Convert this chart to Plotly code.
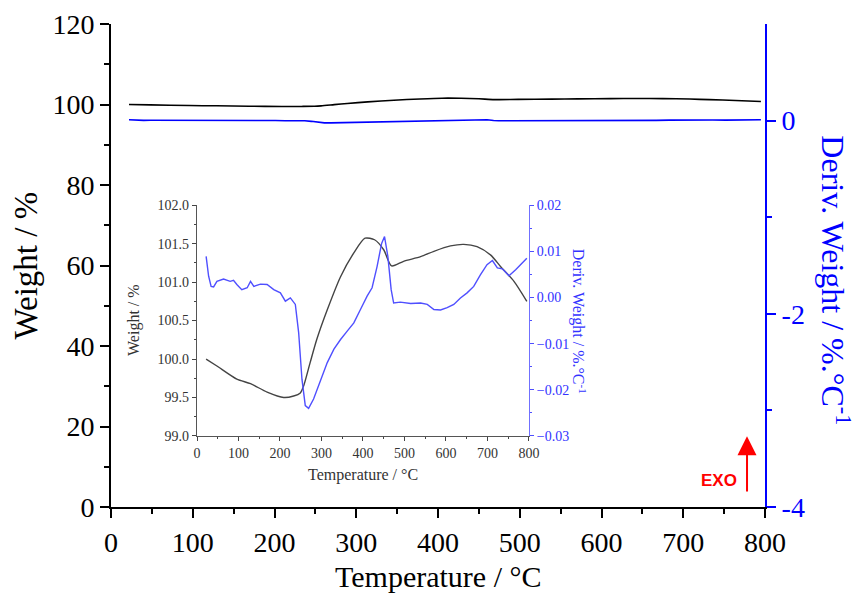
import plotly.graph_objects as go

# ---- data ----
temp_w = [22, 48, 96, 129, 169, 209, 233, 249, 257, 273, 289, 314, 346, 378, 405, 428,
          450, 469, 498, 539, 571, 611, 643, 675, 708, 732, 764, 795]
weight = [100.00, 99.91, 99.74, 99.68, 99.57, 99.50, 99.52, 99.56, 99.65, 99.96, 100.26,
          100.64, 101.07, 101.38, 101.57, 101.55, 101.42, 101.21, 101.27, 101.33, 101.40,
          101.47, 101.49, 101.46, 101.35, 101.20, 101.01, 100.75]

temp_d = [22, 28, 34, 40, 48, 64, 80, 88, 96, 108, 121, 129, 137, 153, 169, 185, 201, 213,
          225, 237, 245, 253, 261, 269, 281, 297, 314, 330, 346, 362, 378, 394, 410, 422,
          434, 445, 452, 460, 468, 474, 490, 515, 539, 555, 571, 587, 603, 619, 635, 651,
          667, 683, 699, 712, 724, 736, 752, 768, 784, 795]
deriv = [0.0089, 0.0046, 0.0024, 0.0023, 0.0035, 0.0040, 0.0035, 0.0037, 0.0028, 0.0017,
         0.0021, 0.0035, 0.0024, 0.0029, 0.0028, 0.0017, 0.0010, -0.0008, -0.0001, -0.0015,
         -0.0076, -0.0177, -0.0234, -0.0240, -0.0220, -0.0180, -0.0141, -0.0112, -0.0091,
         -0.0073, -0.0055, -0.0026, 0.0003, 0.0021, 0.0067, 0.0117, 0.0132, 0.0089, 0.0017,
         -0.0012, -0.0010, -0.0013, -0.0012, -0.0015, -0.0026, -0.0027, -0.0022, -0.0015,
         -0.0001, 0.0010, 0.0024, 0.0049, 0.0071, 0.0080, 0.0064, 0.0062, 0.0047, 0.0060,
         0.0074, 0.0085]

serif = "Liberation Serif"
BLUE = "#0000ff"
IBLUE = "#4f4fff"

fig = go.Figure()
# main chart
fig.add_trace(go.Scatter(x=temp_w, y=weight, mode="lines",
                         line=dict(color="black", width=1.6, shape="spline", smoothing=0.7),
                         xaxis="x", yaxis="y", showlegend=False))
fig.add_trace(go.Scatter(x=temp_d, y=deriv, mode="lines", line=dict(color=BLUE, width=1.6),
                         xaxis="x", yaxis="y2", showlegend=False))
# inset
fig.add_trace(go.Scatter(x=temp_w, y=weight, mode="lines",
                         line=dict(color="#444444", width=1.4, shape="spline", smoothing=0.7),
                         xaxis="x2", yaxis="y3", showlegend=False))
fig.add_trace(go.Scatter(x=temp_d, y=deriv, mode="lines", line=dict(color=IBLUE, width=1.4),
                         xaxis="x2", yaxis="y4", showlegend=False))

main_tick = dict(family=serif, size=28, color="black")
ins_tick = dict(family=serif, size=14, color="#333333")

fig.update_layout(
    width=852, height=586,
    margin=dict(l=103, r=95, t=16, b=87, autoexpand=False),
    paper_bgcolor="white", plot_bgcolor="white",
    xaxis=dict(domain=[0, 1], anchor="y", range=[0, 800], dtick=100, tick0=0, automargin=False,
               ticks="outside", ticklen=9, tickwidth=1.5, tickcolor="black",
               minor=dict(dtick=50, ticks="outside", ticklen=5, tickcolor="black", tickwidth=1.5),
               showline=True, linecolor="black", linewidth=2, showgrid=False, zeroline=False,
               tickfont=main_tick),
    xaxis3=dict(overlaying="x", side="top", anchor="y", range=[0, 800], dtick=100, automargin=False,
                ticks="inside", ticklen=9, tickwidth=1.5, tickcolor="black",
                minor=dict(dtick=50, ticks="inside", ticklen=5, tickcolor="black", tickwidth=1.5),
                showline=True, linecolor="black", linewidth=2, showgrid=False, zeroline=False,
                showticklabels=False),
    yaxis=dict(domain=[0, 1], anchor="x", range=[0, 120], dtick=20, automargin=False,
               ticks="outside", ticklen=9, tickwidth=1.5, tickcolor="black",
               minor=dict(dtick=10, ticks="outside", ticklen=5, tickcolor="black", tickwidth=1.5),
               showline=True, linecolor="black", linewidth=2, showgrid=False, zeroline=False,
               tickfont=main_tick),
    yaxis2=dict(overlaying="y", side="right", anchor="x", range=[-4, 1], automargin=False,
                tickvals=[-4, -2, 0], ticktext=["-4", "-2", "0"],
                ticks="outside", ticklen=9, tickwidth=1.5, tickcolor=BLUE,
                minor=dict(tickvals=[-3, -1], ticks="outside", ticklen=5, tickcolor=BLUE, tickwidth=1.5),
                showline=True, linecolor=BLUE, linewidth=2, showgrid=False, zeroline=False,
                tickfont=dict(family=serif, size=28, color=BLUE)),
    # inset
    xaxis2=dict(domain=[0.1315, 0.639], anchor="y3", range=[0, 800], dtick=100, automargin=False,
                ticks="outside", ticklen=4, tickwidth=1, tickcolor="#444444",
                minor=dict(dtick=50, ticks="outside", ticklen=2, tickcolor="#444444"),
                showline=True, linecolor="#555555", linewidth=1.3, showgrid=False, zeroline=False,
                tickfont=ins_tick),
    xaxis4=dict(overlaying="x2", side="top", anchor="y3", range=[0, 800], dtick=100, automargin=False,
                ticks="inside", ticklen=4, tickwidth=1, tickcolor="#444444",
                minor=dict(dtick=50, ticks="inside", ticklen=2, tickcolor="#444444"),
                showline=True, linecolor="#555555", linewidth=1.3, showgrid=False, zeroline=False,
                showticklabels=False),
    yaxis3=dict(domain=[0.147, 0.625], anchor="x2", range=[99, 102], dtick=0.5, automargin=False,
                tickformat=".1f",
                ticks="outside", ticklen=4, tickwidth=1, tickcolor="#444444",
                minor=dict(dtick=0.25, ticks="outside", ticklen=2, tickcolor="#444444"),
                showline=True, linecolor="#555555", linewidth=1.3, showgrid=False, zeroline=False,
                tickfont=ins_tick),
    yaxis4=dict(overlaying="y3", side="right", anchor="x2", range=[-0.03, 0.02], dtick=0.01,
                tickformat=".2f", automargin=False,
                ticks="outside", ticklen=4, tickwidth=1, tickcolor=IBLUE,
                minor=dict(dtick=0.005, ticks="outside", ticklen=2, tickcolor=IBLUE),
                showline=True, linecolor="#7070ff", linewidth=1.3, showgrid=False, zeroline=False,
                tickfont=dict(family=serif, size=14, color="#3333ff")),
)

ann = [
    dict(text="Temperature / °C", x=0.5, y=-0.143, xref="paper", yref="paper",
         showarrow=False, font=dict(family=serif, size=30, color="black"),
         xanchor="center", yanchor="middle"),
    dict(text="Weight / %", x=-0.13, y=0.5, xref="paper", yref="paper", textangle=-90,
         showarrow=False, font=dict(family=serif, size=33, color="black"),
         xanchor="center", yanchor="middle"),
    dict(text="Deriv. Weight / %.°C<sup>-1</sup>", x=1.108, y=0.47, xref="paper", yref="paper",
         textangle=90, showarrow=False, font=dict(family=serif, size=32, color=BLUE),
         xanchor="center", yanchor="middle"),
    dict(text="Temperature / °C", x=0.385, y=0.066, xref="paper", yref="paper",
         showarrow=False, font=dict(family=serif, size=16, color="#333333"),
         xanchor="center", yanchor="middle"),
    dict(text="Weight / %", x=0.035, y=0.387, xref="paper", yref="paper", textangle=-90,
         showarrow=False, font=dict(family=serif, size=16, color="#333333"),
         xanchor="center", yanchor="middle"),
    dict(text="Deriv. Weight / %.°C<sup>-1</sup>", x=0.716, y=0.385, xref="paper", yref="paper",
         textangle=90, showarrow=False, font=dict(family=serif, size=16, color="#3333ff"),
         xanchor="center", yanchor="middle"),
    # EXO arrow
    dict(text="", x=778, y=17.6, ax=778, ay=3.5, xref="x", yref="y", axref="x", ayref="y",
         showarrow=True, arrowhead=2, arrowsize=1.9, arrowwidth=2.0, arrowcolor="#ff0000"),
    dict(text="<b>EXO</b>", x=744, y=6.7, xref="x", yref="y", showarrow=False,
         font=dict(family="Liberation Sans", size=17, color="#ff0000"),
         xanchor="center", yanchor="middle"),
]
fig.update_layout(annotations=ann)

fig.write_html("out.html")
